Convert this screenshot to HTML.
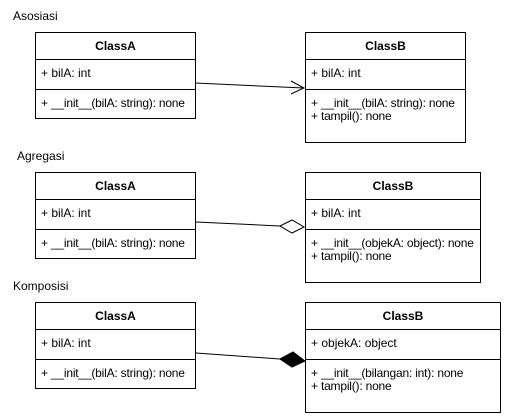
<!DOCTYPE html>
<html><head><style>
body{margin:0;width:506px;height:416px;background:#fff;font-family:"Liberation Sans",Arial,sans-serif;font-size:12px;color:#000;position:relative;overflow:hidden}
.lbl{position:absolute;font-size:12px}
.box{position:absolute;border:1px solid #000;box-sizing:border-box;background:#fff;white-space:nowrap}
.h{height:26px;line-height:27px;text-align:center;font-weight:bold;border-bottom:1px solid #000;font-size:12px}
.a{height:30px;border-bottom:1px solid #000;padding:6px 0 0 5px;box-sizing:border-box}
.m{padding:7px 0 0 5px;line-height:13px;letter-spacing:-0.2px}
svg{position:absolute;left:0;top:0}
</style></head><body>
<div class="lbl" style="left:13px;top:9px">Asosiasi</div>
<div class="lbl" style="left:17px;top:149px">Agregasi</div>
<div class="lbl" style="left:13px;top:279px">Komposisi</div>

<div class="box" style="left:35px;top:32px;width:161px;height:87px"><div class="h">ClassA</div><div class="a">+ bilA: int</div><div class="m">+ __init__(bilA: string): none</div></div>
<div class="box" style="left:305px;top:32px;width:161px;height:111px"><div class="h">ClassB</div><div class="a">+ bilA: int</div><div class="m">+ __init__(bilA: string): none<br>+ tampil(): none</div></div>

<div class="box" style="left:35px;top:172px;width:161px;height:87px"><div class="h">ClassA</div><div class="a">+ bilA: int</div><div class="m">+ __init__(bilA: string): none</div></div>
<div class="box" style="left:305px;top:172px;width:176px;height:111px"><div class="h">ClassB</div><div class="a">+ bilA: int</div><div class="m">+ __init__(objekA: object): none<br>+ tampil(): none</div></div>

<div class="box" style="left:35px;top:302px;width:161px;height:87px"><div class="h">ClassA</div><div class="a">+ bilA: int</div><div class="m">+ __init__(bilA: string): none</div></div>
<div class="box" style="left:305px;top:302px;width:196px;height:111px"><div class="h">ClassB</div><div class="a">+ objekA: object</div><div class="m">+ __init__(bilangan: int): none<br>+ tampil(): none</div></div>

<svg width="506" height="416">
<line x1="195" y1="83" x2="304" y2="88" stroke="#000"/>
<polyline points="291,81 304,88 291,94" fill="none" stroke="#000"/>
<line x1="196" y1="222" x2="280" y2="226" stroke="#000"/>
<polygon points="280,226 292,220 304,227 292,233" fill="#fff" stroke="#000"/>
<line x1="196" y1="353" x2="280" y2="359" stroke="#000"/>
<polygon points="280,359 293,352 305,361 292,367" fill="#000" stroke="#000"/>
</svg>
</body></html>
